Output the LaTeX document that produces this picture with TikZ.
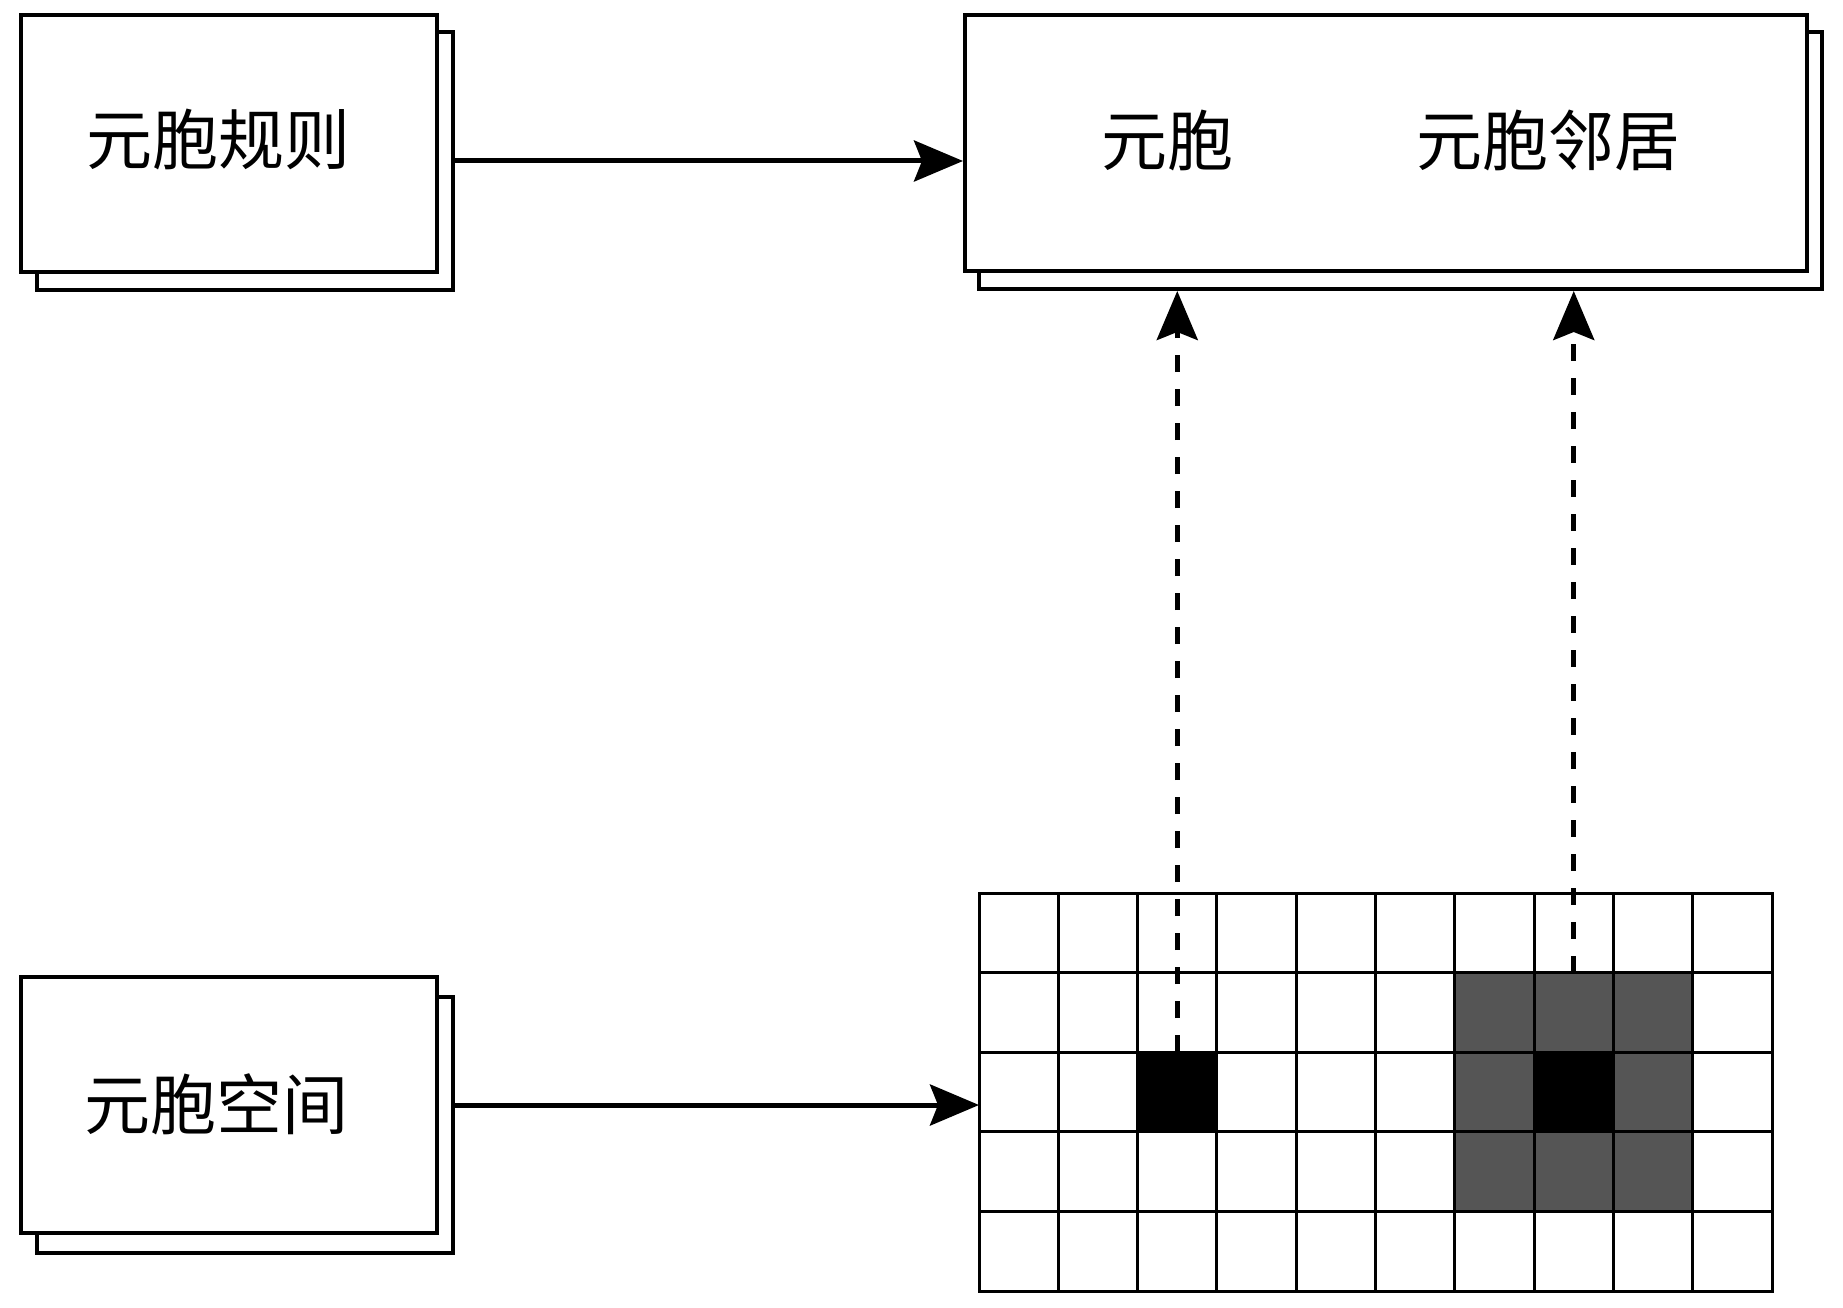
\documentclass[tikz,border=0pt]{standalone}
\usepackage{fontspec}
\newfontfamily\cjk{Noto Sans CJK SC}
\usetikzlibrary{arrows.meta}
\definecolor{cellgray}{RGB}{85,85,85}
\begin{document}
\begin{tikzpicture}[x=1pt,y=-1pt,
  boxf/.style={draw=black,fill=white,line width=4pt,inner sep=0pt},
  lbl/.style={inner sep=0pt,font=\cjk\fontsize{66}{72}\selectfont},
  cell/.style={draw=black,line width=3pt,minimum width=79.3pt,minimum height=79.6pt,inner sep=0pt,outer sep=0pt},
  conn/.style={line width=5pt,-{Stealth[length=49pt,width=41pt,inset=8pt]}},
  dconn/.style={line width=5pt,dash pattern=on 17pt off 17pt,-{Stealth[length=49pt,width=41pt,inset=8pt]}}]
\useasboundingbox (0,0) rectangle (1843,1308);
% box 1
\node[boxf,minimum width=416pt,minimum height=257pt] (s1) at (245,161) {};
\node[boxf,minimum width=416pt,minimum height=257pt] (f1) at (229,143.5) {};
\node[lbl] (t1) at (218,139) {元胞规则};
% box 2
\node[boxf,minimum width=843pt,minimum height=257pt] (s2) at (1400.5,160.5) {};
\node[boxf,minimum width=842pt,minimum height=256pt] (f2) at (1386,143) {};
\node[lbl] (t2a) at (1167,140) {元胞};
\node[lbl] (t2b) at (1548,140) {元胞邻居};
% box 3
\node[boxf,minimum width=416pt,minimum height=256pt] (s3) at (245,1125) {};
\node[boxf,minimum width=416pt,minimum height=256pt] (f3) at (229,1105) {};
\node[lbl] (t3) at (216,1104) {元胞空间};
% grid
\foreach \r in {0,...,4}{
  \foreach \c in {0,...,9}{
    \pgfmathsetmacro{\cx}{979+79.3*(\c+0.5)}
    \pgfmathsetmacro{\cy}{893+79.6*(\r+0.5)}
    \def\fc{white}
    \ifnum\r>0 \ifnum\r<4 \ifnum\c>5 \ifnum\c<9 \def\fc{cellgray}\fi\fi\fi\fi
    \ifnum\r=2 \ifnum\c=2 \def\fc{black}\fi\fi
    \ifnum\r=2 \ifnum\c=7 \def\fc{black}\fi\fi
    \node[cell,fill=\fc] (g-\r-\c) at (\cx,\cy) {};
  }
}
% connectors
\draw[conn] (s1.east) -- (s1.east -| f2.west);
\coordinate (a3) at (s3.east |- f3.east);
\draw[conn] (a3) -- (a3 -| g-2-0.west);
\draw[dconn] (g-2-2.north) -- (g-2-2.north |- s2.south);
\draw[dconn] (g-1-7.north) -- (g-1-7.north |- s2.south);
\end{tikzpicture}
\end{document}
